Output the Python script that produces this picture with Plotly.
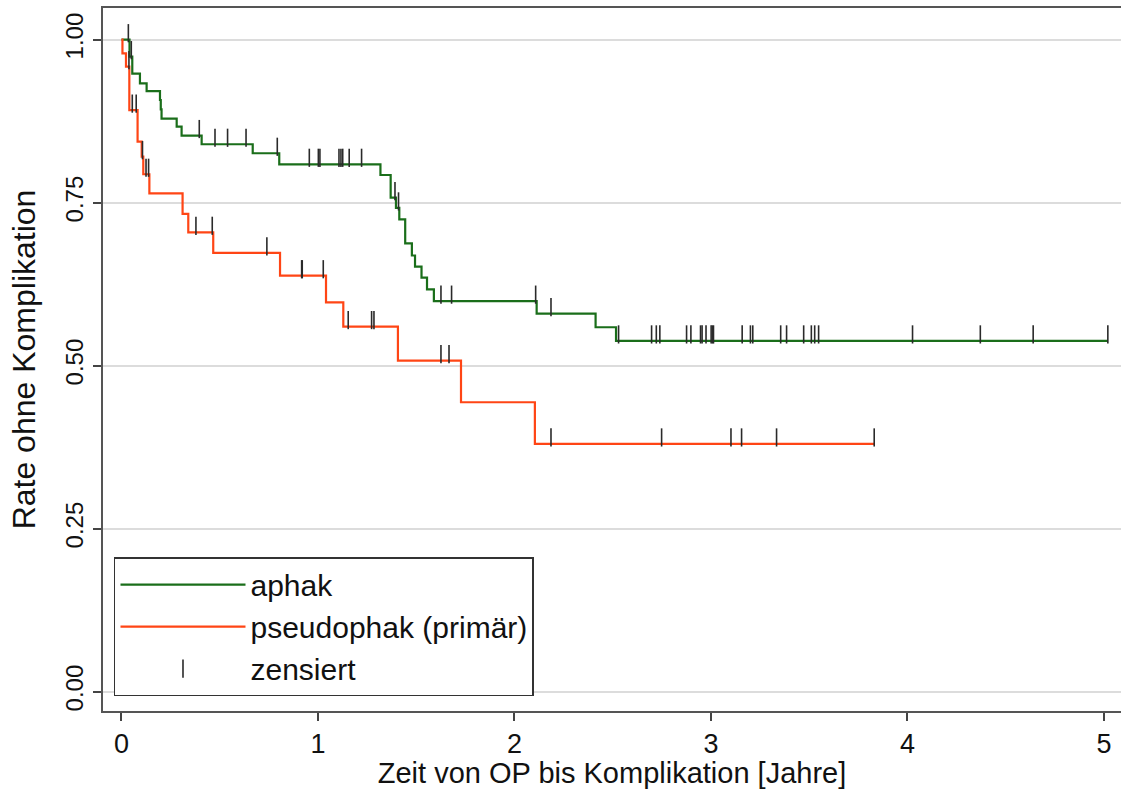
import numpy as np
import plotly.graph_objects as go

# ---- data ----
aphak_time = [0.0, 0.041, 0.055, 0.094, 0.128, 0.196, 0.200, 0.204, 0.281, 0.306, 0.408,
              0.668, 0.803, 1.318, 1.370, 1.397, 1.414, 1.444, 1.478, 1.494, 1.527, 1.555,
              1.590, 2.113, 2.413, 2.517, 5.020]
aphak_surv = [1.0, 0.974, 0.948, 0.933, 0.921, 0.9075, 0.893, 0.879, 0.8666, 0.853, 0.8396,
              0.8258, 0.8089, 0.7925, 0.7577, 0.742, 0.7245, 0.6877, 0.669, 0.652, 0.635, 0.617,
              0.599, 0.580, 0.559, 0.538, 0.538]
aphak_censor = [0.035, 0.050, 0.396, 0.476, 0.540, 0.634, 0.793, 0.956, 1.002, 1.010, 1.107,
                1.117, 1.126, 1.159, 1.222, 1.392, 1.410, 1.626, 1.680, 2.108, 2.186, 2.530,
                2.698, 2.722, 2.740, 2.876, 2.898, 2.947, 2.955, 2.975, 3.001, 3.008, 3.013,
                3.159, 3.201, 3.213, 3.355, 3.385, 3.472, 3.511, 3.528, 3.548, 4.026, 4.371,
                4.640, 5.020]

pseudo_time = [0.0, 0.005, 0.023, 0.040, 0.082, 0.103, 0.111, 0.142, 0.311, 0.340, 0.467,
               0.807, 1.041, 1.129, 1.407, 1.728, 2.104, 3.831]
pseudo_surv = [1.0, 0.979, 0.9586, 0.892, 0.8436, 0.8206, 0.7936, 0.7644, 0.7327, 0.7046,
               0.673, 0.638, 0.597, 0.560, 0.5077, 0.4439, 0.380, 0.380]
pseudo_censor = [0.038, 0.055, 0.075, 0.107, 0.125, 0.138, 0.379, 0.462, 0.740, 0.917, 0.920,
                 1.027, 1.154, 1.273, 1.285, 1.626, 1.667, 2.186, 2.749, 3.102, 3.156, 3.334,
                 3.831]

series_names = ["aphak", "pseudophak (primär)", "zensiert"]
y_tick_values = [0.0, 0.25, 0.5, 0.75, 1.0]
y_tick_labels = ["0.00", "0.25", "0.50", "0.75", "1.00"]
x_tick_values = [0, 1, 2, 3, 4, 5]

GREEN = "#1a6e1a"
RED = "#ff4515"
FONT = "Liberation Sans, Arial, sans-serif"


def level_at(times, surv, t):
    idx = np.searchsorted(np.asarray(times), np.asarray(t), side="right") - 1
    return np.asarray(surv)[idx]


TICK_H = 13          # censor tick height in px
Y_PER_PX = 1.0 / 652.0
tick_off = TICK_H / 2 * Y_PER_PX

cens_x = list(aphak_censor) + list(pseudo_censor)
cens_y = list(level_at(aphak_time, aphak_surv, aphak_censor) + tick_off) + \
         list(level_at(pseudo_time, pseudo_surv, pseudo_censor) + tick_off)

fig = go.Figure()
fig.add_trace(go.Scatter(x=aphak_time, y=aphak_surv, mode="lines", name=series_names[0],
                         line=dict(shape="hv", color=GREEN, width=2.2), legendgroup="a"))
fig.add_trace(go.Scatter(x=pseudo_time, y=pseudo_surv, mode="lines", name=series_names[1],
                         line=dict(shape="hv", color=RED, width=2.2), legendgroup="b"))
fig.add_trace(go.Scatter(x=cens_x, y=cens_y, mode="markers", name=series_names[2],
                         marker=dict(symbol="line-ns", size=TICK_H,
                                     line=dict(width=1.6, color="#2a2a2a")),
                         legendgroup="c"))

fig.update_layout(
    width=1121, height=789,
    margin=dict(l=103, r=0, t=8, b=78),
    plot_bgcolor="white", paper_bgcolor="white",
    font=dict(family=FONT, color="#111111"),
    legend=dict(x=0.0108, y=0.219, xanchor="left", yanchor="top",
                bordercolor="#333333", borderwidth=1.5, bgcolor="white",
                font=dict(size=30, family=FONT, color="#111111"),
                itemwidth=125, traceorder="grouped", tracegroupgap=0,
                entrywidth=400, entrywidthmode="pixels"),
    showlegend=True,
)
fig.update_xaxes(range=[-0.094, 5.087], tickvals=x_tick_values,
                 ticks="outside", ticklen=8, tickwidth=1.5, tickcolor="#444",
                 showline=True, linecolor="#555", linewidth=2, mirror=True,
                 showgrid=False, zeroline=False,
                 tickfont=dict(size=27, family=FONT),
                 title=dict(text="Zeit von OP bis Komplikation [Jahre]",
                            font=dict(size=29, family=FONT), standoff=3))
fig.update_yaxes(range=[-0.0296, 1.0486], tickvals=y_tick_values, ticktext=y_tick_labels,
                 tickangle=-90, ticks="outside", ticklen=8, tickwidth=1.5, tickcolor="#444",
                 showline=True, linecolor="#555", linewidth=2, mirror=False,
                 showgrid=True, gridcolor="#dcdcdc", gridwidth=1.5, zeroline=False,
                 tickfont=dict(size=24, family=FONT),
                 title=dict(text="Rate ohne Komplikation", font=dict(size=32, family=FONT),
                            standoff=16))

fig.write_html("out.html")
